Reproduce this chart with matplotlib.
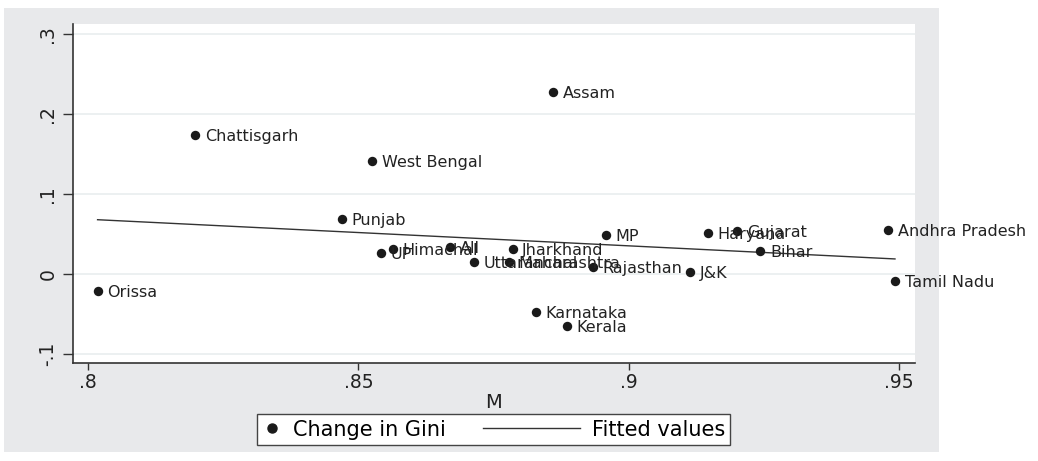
import matplotlib.pyplot as plt
from matplotlib.patches import Rectangle
from matplotlib.lines import Line2D
from matplotlib.legend_handler import HandlerLine2D

plt.rcParams['font.family'] = ['DejaVu Sans']

# states, M (x) and change in Gini (y)
states = ['Assam', 'Chattisgarh', 'West Bengal', 'Punjab', 'MP', 'Haryana',
          'Gujarat', 'Andhra Pradesh', 'Bihar', 'Himachal', 'UP', 'All',
          'Jharkhand', 'Uttaranchal', 'Maharashtra', 'Rajasthan', 'J&K',
          'Tamil Nadu', 'Orissa', 'Karnataka', 'Kerala']
m_val = [0.8860, 0.8198, 0.8525, 0.8470, 0.8957, 0.9146,
         0.9200, 0.9479, 0.9243, 0.8564, 0.8542, 0.8670,
         0.8785, 0.8714, 0.8778, 0.8933, 0.9113,
         0.9492, 0.8018, 0.8828, 0.8885]
gini = [0.2275, 0.174, 0.141, 0.069, 0.049, 0.051,
        0.054, 0.055, 0.029, 0.031, 0.026, 0.034,
        0.031, 0.015, 0.015, 0.0095, 0.003,
        -0.009, -0.021, -0.0475, -0.065]

# fitted line end points
fit_x = [0.8018, 0.9492]
fit_y = [0.068, 0.019]

xticks = [0.8, 0.85, 0.9, 0.95]
xtick_labels = ['.8', '.85', '.9', '.95']
yticks = [-0.1, 0, 0.1, 0.2, 0.3]
ytick_labels = ['-.1', '0', '.1', '.2', '.3']


class LongLine(HandlerLine2D):
    # stata style key: the line reaches further left than the marker key
    def create_artists(self, legend, orig_handle, xdescent, ydescent,
                       width, height, fontsize, trans):
        y = height / 2 - ydescent
        line = Line2D([-xdescent - 56, -xdescent + width], [y, y])
        self.update_prop(line, orig_handle, legend)
        line.set_transform(trans)
        return [line]


bg = '#E8E9EB'
ink = '#222222'
fig = plt.figure(figsize=(10.38, 4.61), dpi=100)
fig.patch.set_facecolor('white')
fig.patches.append(Rectangle((4 / 1038, 1 - 452 / 461), 935 / 1038, 444 / 461,
                             transform=fig.transFigure, facecolor=bg,
                             edgecolor='none', zorder=-10))

ax = fig.add_axes([72.7 / 1038, 1 - 363 / 461, 842.3 / 1038, 339 / 461])
ax.set_facecolor('white')
ax.set_xlim(0.7972, 0.9529)
ax.set_ylim(-0.111, 0.3125)

ax.set_yticks(yticks)
ax.set_yticklabels(ytick_labels, rotation=90, va='center')
ax.set_xticks(xticks)
ax.set_xticklabels(xtick_labels)
ax.tick_params(axis='both', direction='out', width=1, color='#333333',
               labelsize=13.5, labelcolor=ink)
ax.tick_params(axis='y', length=7, pad=4)
ax.tick_params(axis='x', length=5, pad=2)
ax.grid(axis='y', color='#E9EEEF', linewidth=1.2)
ax.set_axisbelow(True)
for s in ['top', 'right']:
    ax.spines[s].set_visible(False)
for s in ['left', 'bottom']:
    ax.spines[s].set_color('#333333')
    ax.spines[s].set_linewidth(1.2)

ax.plot(fit_x, fit_y, color='#333333', linewidth=1.0, zorder=2)
ax.scatter(m_val, gini, s=46, color='#1a1a1a', zorder=3, linewidths=0)
for name, x, y in zip(states, m_val, gini):
    ax.annotate(name, (x, y), xytext=(7, 0), textcoords='offset points',
                va='center_baseline', ha='left', fontsize=11.5, color=ink,
                annotation_clip=False, zorder=4)

ax.set_xlabel('M', fontsize=14, color=ink, labelpad=1)

h_dot = Line2D([], [], marker='o', linestyle='none', color='#1a1a1a',
               markersize=6.5)
h_fit = Line2D([], [], color='#333333', linewidth=1)
leg = fig.legend([h_dot, h_fit], ['Change in Gini', 'Fitted values'], ncol=2,
                 loc='center', bbox_to_anchor=(493.5 / 1038, 1 - 429.5 / 461),
                 fontsize=15, frameon=True, fancybox=False, numpoints=1,
                 handlelength=0.95, handletextpad=0.55, columnspacing=5.5,
                 borderpad=0.25, borderaxespad=0, framealpha=1,
                 facecolor='white', handler_map={h_fit: LongLine()})
leg.get_frame().set_edgecolor('#444444')
leg.get_frame().set_linewidth(1)

fig.savefig('out.png', dpi=100, facecolor='white')
